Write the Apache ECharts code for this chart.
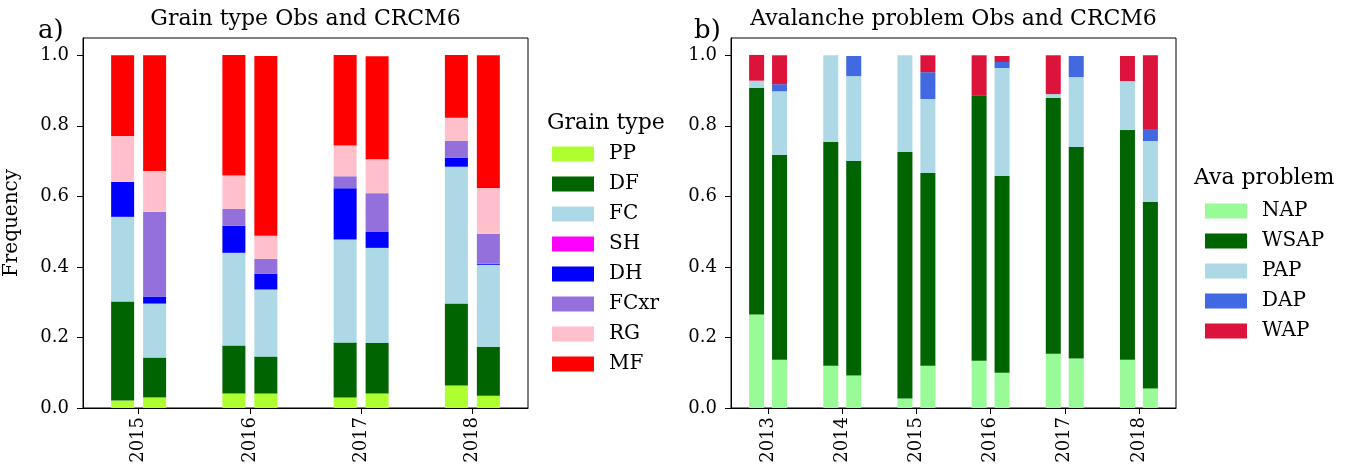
<!DOCTYPE html>
<html>
<head>
<meta charset="utf-8">
<script src="https://cdn.jsdelivr.net/npm/echarts@6/dist/echarts.min.js"></script>
<style>
  html, body { margin: 0; padding: 0; background: #fff; }
  #chart { width: 1348px; height: 472px; }
</style>
</head>
<body>
<div id="chart"></div>
<script>
// ---- Panel a): grain type frequencies, observations vs CRCM6 ----
const grainYears = ['2015', '2016', '2017', '2018'];
const grainTypes = ['PP', 'DF', 'FC', 'SH', 'DH', 'FCxr', 'RG', 'MF'];

const obsPP   = [0.021, 0.041, 0.030, 0.064];
const obsDF   = [0.281, 0.136, 0.156, 0.232];
const obsFC   = [0.240, 0.263, 0.292, 0.388];
const obsSH   = [0.000, 0.000, 0.000, 0.000];
const obsDH   = [0.099, 0.077, 0.145, 0.026];
const obsFCxr = [0.000, 0.048, 0.034, 0.048];
const obsRG   = [0.130, 0.094, 0.087, 0.065];
const obsMF   = [0.229, 0.342, 0.257, 0.178];

const modPP   = [0.030, 0.041, 0.041, 0.035];
const modDF   = [0.113, 0.105, 0.144, 0.139];
const modFC   = [0.153, 0.190, 0.269, 0.232];
const modSH   = [0.000, 0.000, 0.000, 0.000];
const modDH   = [0.020, 0.045, 0.045, 0.003];
const modFCxr = [0.240, 0.042, 0.110, 0.085];
const modRG   = [0.116, 0.065, 0.096, 0.130];
const modMF   = [0.328, 0.510, 0.292, 0.376];

// ---- Panel b): avalanche problem frequencies, observations vs CRCM6 ----
const avaYears = ['2013', '2014', '2015', '2016', '2017', '2018'];
const avaTypes = ['NAP', 'WSAP', 'PAP', 'DAP', 'WAP'];

const obsNAP  = [0.265, 0.120, 0.027, 0.134, 0.154, 0.137];
const obsWSAP = [0.643, 0.635, 0.699, 0.753, 0.725, 0.651];
const obsPAP  = [0.020, 0.245, 0.274, 0.000, 0.011, 0.139];
const obsDAP  = [0.000, 0.000, 0.000, 0.000, 0.000, 0.000];
const obsWAP  = [0.073, 0.000, 0.000, 0.113, 0.110, 0.071];

const modNAP  = [0.137, 0.092, 0.120, 0.100, 0.140, 0.055];
const modWSAP = [0.580, 0.609, 0.546, 0.558, 0.600, 0.530];
const modPAP  = [0.181, 0.240, 0.210, 0.306, 0.198, 0.172];
const modDAP  = [0.020, 0.057, 0.076, 0.017, 0.060, 0.034];
const modWAP  = [0.082, 0.000, 0.048, 0.017, 0.000, 0.209];

const yTicks = [0, 0.2, 0.4, 0.6, 0.8, 1.0];

// ---- colours ----
const grainColors = ['#adff2f', '#006400', '#add8e6', '#ff00ff', '#0000ff', '#9370db', '#ffc0cb', '#ff0000'];
const avaColors = ['#98fb98', '#006400', '#add8e6', '#4169e1', '#dc143c'];

const FONT = 'DejaVu Serif';

const grainObs = [obsPP, obsDF, obsFC, obsSH, obsDH, obsFCxr, obsRG, obsMF];
const grainMod = [modPP, modDF, modFC, modSH, modDH, modFCxr, modRG, modMF];
const avaObs = [obsNAP, obsWSAP, obsPAP, obsDAP, obsWAP];
const avaMod = [modNAP, modWSAP, modPAP, modDAP, modWAP];

function bar(name, data, stack, axis, color, width, gap) {
  return {
    type: 'bar', name: name, data: data, stack: stack,
    xAxisIndex: axis, yAxisIndex: axis,
    barWidth: width, barGap: gap,
    itemStyle: { color: color },
    emphasis: { disabled: true },
    animation: false
  };
}

const series = [];
grainTypes.forEach((t, i) => series.push(bar(t, grainObs[i], 'gObs', 0, grainColors[i], 23, '39%')));
grainTypes.forEach((t, i) => series.push(bar(t, grainMod[i], 'gMod', 0, grainColors[i], 23, '39%')));
avaTypes.forEach((t, i) => series.push(bar(t, avaObs[i], 'aObs', 1, avaColors[i], 15, '53%')));
avaTypes.forEach((t, i) => series.push(bar(t, avaMod[i], 'aMod', 1, avaColors[i], 15, '53%')));

function xAxis(idx, cats) {
  return {
    type: 'category', gridIndex: idx, data: cats,
    axisLine: { show: true, lineStyle: { color: '#000', width: 1 } },
    axisTick: { show: true, alignWithLabel: true, length: 6, lineStyle: { color: '#000', width: 1 } },
    axisLabel: { rotate: 90, margin: 9, fontSize: 18, fontFamily: FONT, color: '#000' },
    splitLine: { show: false }
  };
}

function yAxis(idx, name) {
  return {
    type: 'value', gridIndex: idx, min: 0, max: 1.049, interval: 0.2,
    name: name, nameLocation: 'middle', nameGap: 61,
    nameTextStyle: { fontSize: 20, fontFamily: FONT, color: '#000' },
    axisLine: { show: true, lineStyle: { color: '#000', width: 1 } },
    axisTick: { show: true, length: 6, customValues: yTicks, lineStyle: { color: '#000', width: 1 } },
    axisLabel: {
      customValues: yTicks, margin: 14, fontSize: 18, fontFamily: FONT, color: '#000',
      formatter: v => v.toFixed(1)
    },
    splitLine: { show: false }
  };
}

function legend(names, left, top) {
  return {
    data: names, orient: 'vertical', left: left, top: top, padding: 0,
    itemWidth: 42, itemHeight: 15, itemGap: 10, icon: 'rect',
    selectedMode: false,
    textStyle: { fontSize: 20, fontFamily: FONT, color: '#000', padding: [0, 0, 0, 10] }
  };
}

function label(text, x, y, size, align) {
  return {
    type: 'text', x: x, y: y, silent: true,
    style: { text: text, fontSize: size, fontFamily: FONT, fill: '#000', textAlign: align, textVerticalAlign: 'middle' }
  };
}

const chart = echarts.init(document.getElementById('chart'), null, { renderer: 'canvas' });
chart.setOption({
  backgroundColor: '#fff',
  animation: false,
  grid: [
    { left: 83, top: 38, width: 445, height: 370, show: true, borderColor: '#000', borderWidth: 1, containLabel: false },
    { left: 731, top: 38, width: 445, height: 370, show: true, borderColor: '#000', borderWidth: 1, containLabel: false }
  ],
  xAxis: [xAxis(0, grainYears), xAxis(1, avaYears)],
  yAxis: [yAxis(0, 'Frequency'), yAxis(1, '')],
  legend: [legend(grainTypes, 552, 144), legend(avaTypes, 1205, 201)],
  graphic: [
    label('a)', 38, 31, 26, 'left'),
    label('b)', 694, 31, 26, 'left'),
    label('Grain type Obs and CRCM6', 305.5, 19, 22, 'center'),
    label('Avalanche problem Obs and CRCM6', 953.5, 19, 22, 'center'),
    label('Grain type', 547, 123, 22, 'left'),
    label('Ava problem', 1194, 178, 22, 'left')
  ],
  series: series
});
</script>
</body>
</html>
